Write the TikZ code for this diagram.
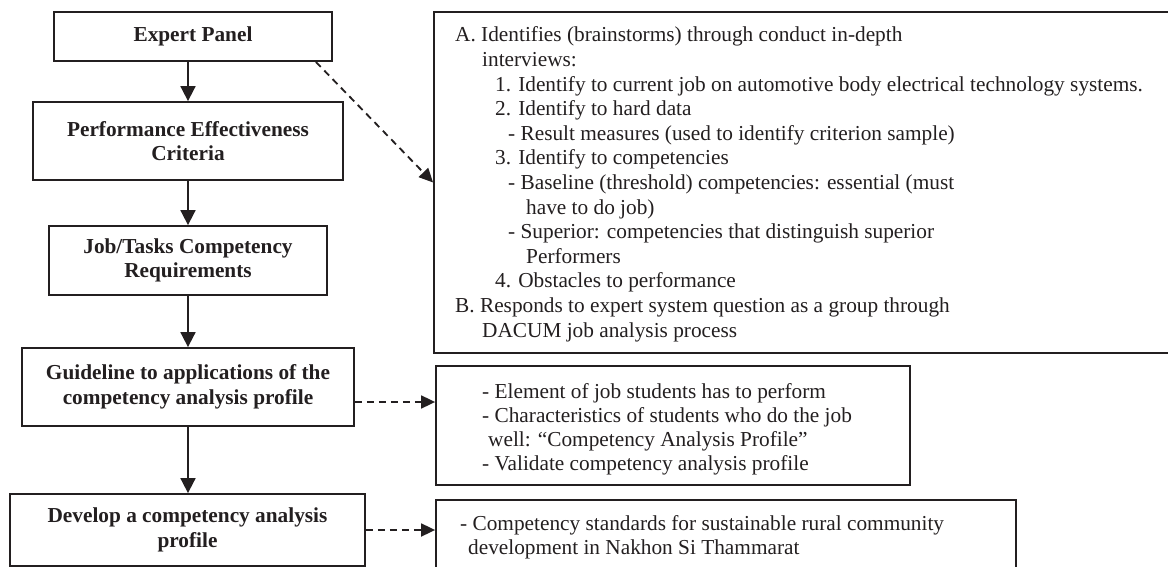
\documentclass[tikz,border=0pt]{standalone}
\usepackage{fontspec}
\setmainfont{Liberation Serif}
\usetikzlibrary{arrows.meta}
\definecolor{ink}{HTML}{231F20}
\begin{document}
\begin{tikzpicture}[x=1pt,y=-1pt,
  box/.style={draw=ink, line width=1.8pt, rectangle, inner sep=0pt},
  lbox/.style={box, font=\fontsize{21.3}{24.6}\selectfont\bfseries, text=ink, align=center},
  arr/.style={draw=ink, line width=1.8pt, -{Triangle[length=15pt,width=15pt]}},
  darr/.style={draw=ink, line width=1.8pt, dash pattern=on 7pt off 5pt, -{Triangle[length=14pt,width=13pt]}},
  txt/.style={anchor=base west, inner sep=0pt, text=ink, font=\fontsize{21.3}{24.6}\selectfont},
  txtb/.style={txt, font=\fontsize{21.3}{24.2}\selectfont},
]
\useasboundingbox (0,0) rectangle (1168,567);
\clip (0,0) rectangle (1168,567);
\fill[white] (0,0) rectangle (1168,567);

% left column
\node[lbox, minimum width=278pt, minimum height=49pt] (ep) at (193,36.5) {Expert Panel};
\node[lbox, minimum width=310pt, minimum height=78pt] (pec) at (188,141) {Performance Effectiveness\\Criteria};
\node[lbox, minimum width=278pt, minimum height=69pt] (jtc) at (188,260.5) {Job/Tasks Competency\\Requirements};
\node[lbox, minimum width=332pt, minimum height=78pt] (gl) at (188,387) {Guideline to applications of the\\competency analysis profile};
\node[lbox, minimum width=355pt, minimum height=72pt] (dv) at (187.5,530) {Develop a competency analysis\\profile};

% right boxes
\node[box, minimum width=738pt, minimum height=341pt] (ba) at (803,182.5) {};
\node[box, minimum width=474pt, minimum height=119pt] (bm) at (673,425.5) {};
\node[box, minimum width=580pt, minimum height=72pt] (bb) at (726,536) {};

% texts of right boxes
\node[txt] (ta) at (455,42) {\parbox[t]{700pt}{%
A. Identifies (brainstorms) through conduct in-depth\\
\hspace*{27pt}interviews:\\
\hspace*{40pt}1. Identify to current job on automotive body electrical technology systems.\\
\hspace*{40pt}2. Identify to hard data\\
\hspace*{53pt}- Result measures (used to identify criterion sample)\\
\hspace*{40pt}3. Identify to competencies\\
\hspace*{53pt}- Baseline (threshold) competencies: essential (must\\
\hspace*{71pt}have to do job)\\
\hspace*{53pt}- Superior: competencies that distinguish superior\\
\hspace*{71pt}Performers\\
\hspace*{40pt}4. Obstacles to performance\\
B. Responds to expert system question as a group through\\
\hspace*{27pt}DACUM job analysis process}};

\node[txtb] (tm) at (482,398) {\parbox[t]{420pt}{%
- Element of job students has to perform\\
- Characteristics of students who do the job\\
\hspace*{6pt}well: “Competency Analysis Profile”\\
- Validate competency analysis profile}};

\node[txt] (tb) at (460,530) {\parbox[t]{550pt}{%
- Competency standards for sustainable rural community\\
\hspace*{8pt}development in Nakhon Si Thammarat}};

% connectors
\draw[arr] (pec.north |- ep.south) -- (pec.north);
\draw[arr] (pec.south) -- (jtc.north);
\draw[arr] (jtc.south) -- (gl.north);
\draw[arr] (gl.south) -- (gl.south |- dv.north);
\draw[darr] ([xshift=-17pt]ep.south east) -- (ba.west);
\draw[darr] ([yshift=-15pt]gl.east) -- ([yshift=-15pt]gl.east -| bm.west);
\draw[darr] (dv.east) -- (dv.east -| bb.west);
\end{tikzpicture}
\end{document}
